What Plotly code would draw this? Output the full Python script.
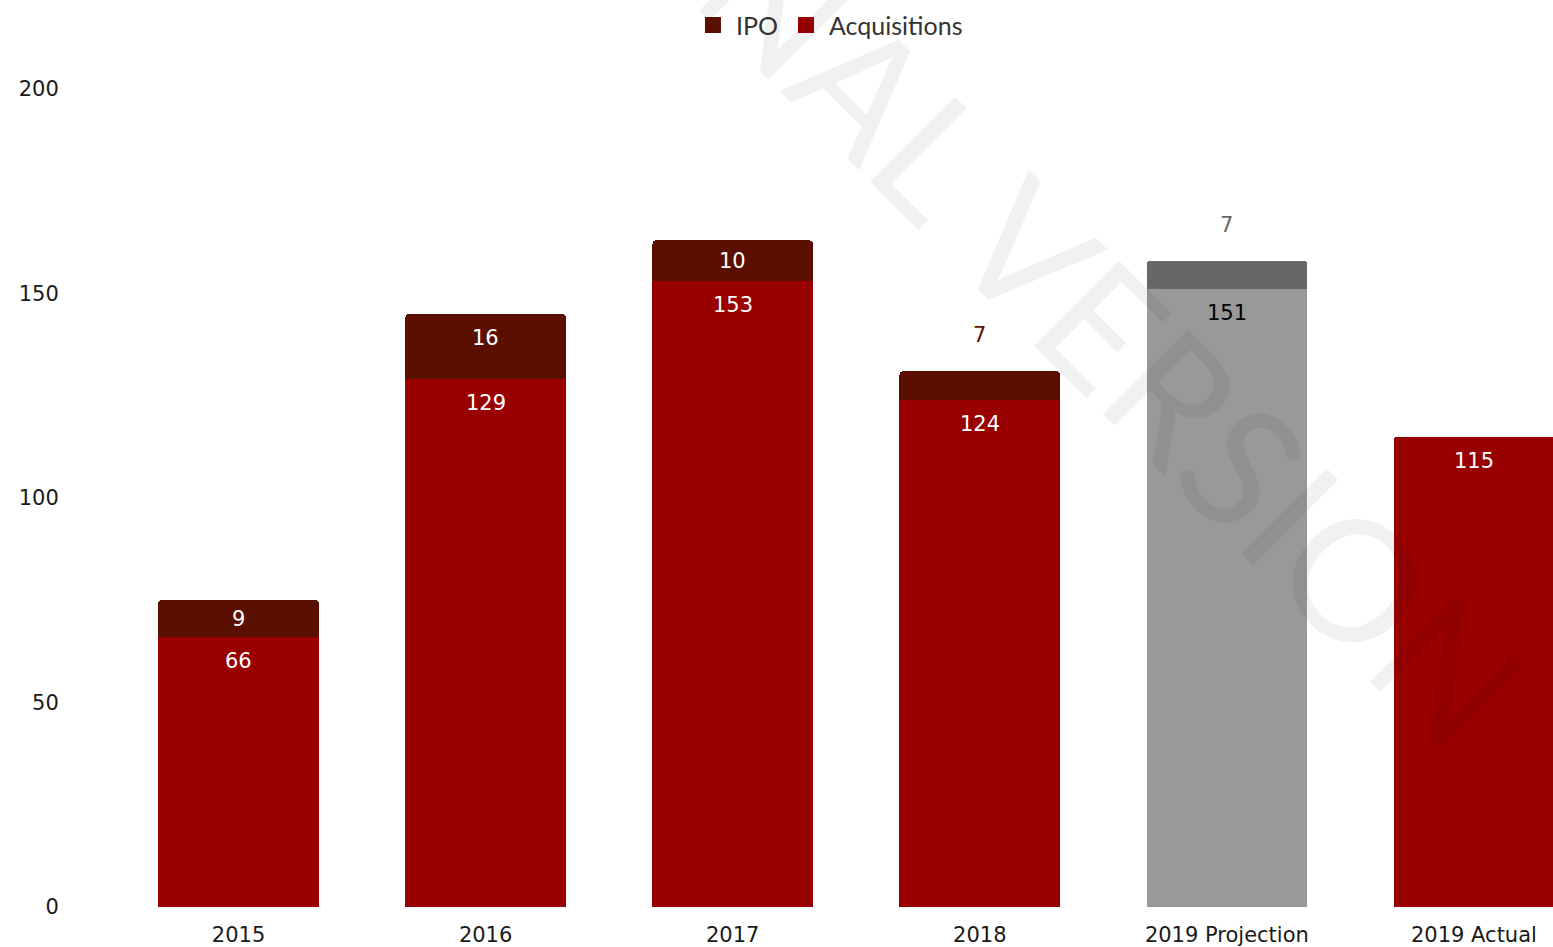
import plotly.graph_objects as go

# ---- data ----
categories = ["2015", "2016", "2017", "2018", "2019 Projection", "2019 Actual"]
acquisitions = [66, 129, 153, 124, 151, 115]
ipo = [9, 16, 10, 7, 7, None]
y_ticks = [0, 50, 100, 150, 200]

# ---- styles ----
ACQ_RED = "#990000"
IPO_RED = "#5a0f00"
PROJ_LIGHT = "#999999"
PROJ_DARK = "#676767"
is_proj = [c == "2019 Projection" for c in categories]
acq_colors = [PROJ_LIGHT if p else ACQ_RED for p in is_proj]
ipo_colors = [PROJ_DARK if p else IPO_RED for p in is_proj]

W, H = 1553, 947
M_L, M_R, M_T, M_B = 115, 0, 60, 40
Y_MAX = 207.1
plot_h = H - M_T - M_B
ppu = plot_h / Y_MAX  # pixels per unit

fig = go.Figure()
fig.add_trace(go.Bar(x=categories, y=acquisitions, name="Acquisitions",
                     marker=dict(color=acq_colors, line=dict(width=0)),
                     showlegend=False, hoverinfo="x+y"))
fig.add_trace(go.Bar(x=categories, y=ipo, name="IPO",
                     marker=dict(color=ipo_colors, line=dict(width=0)),
                     showlegend=False, hoverinfo="x+y"))

# legend entries
fig.add_trace(go.Scatter(x=[None], y=[None], mode="markers", name="IPO",
                         marker=dict(symbol="square", size=22, color=IPO_RED)))
fig.add_trace(go.Scatter(x=[None], y=[None], mode="markers", name="Acquisitions",
                         marker=dict(symbol="square", size=22, color=ACQ_RED)))

LABEL_FONT = "DejaVu Sans"
annotations = []
for i, cat in enumerate(categories):
    a = acquisitions[i]
    annotations.append(dict(
        x=i, y=a, xref="x", yref="y", text=str(a), showarrow=False,
        yshift=-min(24, a * ppu / 2), yanchor="middle",
        font=dict(family=LABEL_FONT, size=21, color="black" if is_proj[i] else "white")))
    v = ipo[i]
    if v is None:
        continue
    seg_px = v * ppu
    if seg_px < 30:
        annotations.append(dict(
            x=i, y=a + v, xref="x", yref="y", text=str(v), showarrow=False,
            yshift=36, yanchor="middle",
            font=dict(family=LABEL_FONT, size=21, color=ipo_colors[i])))
    else:
        annotations.append(dict(
            x=i, y=a + v, xref="x", yref="y", text=str(v), showarrow=False,
            yshift=-min(24, seg_px / 2), yanchor="middle",
            font=dict(family=LABEL_FONT, size=21, color="white")))

# watermark
annotations.append(dict(
    x=0.66, y=0.735, xref="paper", yref="paper", text="FINAL VERSION",
    showarrow=False, textangle=45, xanchor="center", yanchor="middle",
    font=dict(family="Lato", size=168, color="rgba(0,0,0,0.055)")))

fig.update_layout(
    width=W, height=H,
    margin=dict(l=M_L, r=M_R, t=M_T, b=M_B, autoexpand=False),
    paper_bgcolor="white", plot_bgcolor="white",
    barmode="stack", bargap=0.35, barcornerradius=4,
    showlegend=True,
    legend=dict(orientation="h", x=0.4965, xanchor="center", y=1.041, yanchor="middle",
                traceorder="normal", itemwidth=36,
                font=dict(family="Lato", size=25, color="#333333"),
                itemclick=False, bgcolor="rgba(0,0,0,0)"),
    annotations=annotations,
    xaxis=dict(type="category", range=[-0.5, 5.32], showgrid=False, zeroline=False,
               showline=False, ticks="outside", ticklen=9, tickcolor="rgba(0,0,0,0)",
               automargin=False,
               tickfont=dict(family=LABEL_FONT, size=21, color="#1a1a1a")),
    yaxis=dict(range=[0, Y_MAX], tickvals=y_ticks, showgrid=False, zeroline=False,
               showline=False, ticks="outside", ticklen=51, tickcolor="rgba(0,0,0,0)",
               automargin=False,
               tickfont=dict(family=LABEL_FONT, size=21, color="#1a1a1a")),
)

fig.write_html("out.html", config={"displayModeBar": False},
               post_script="document.body.style.margin='0';document.body.style.overflow='hidden';")
